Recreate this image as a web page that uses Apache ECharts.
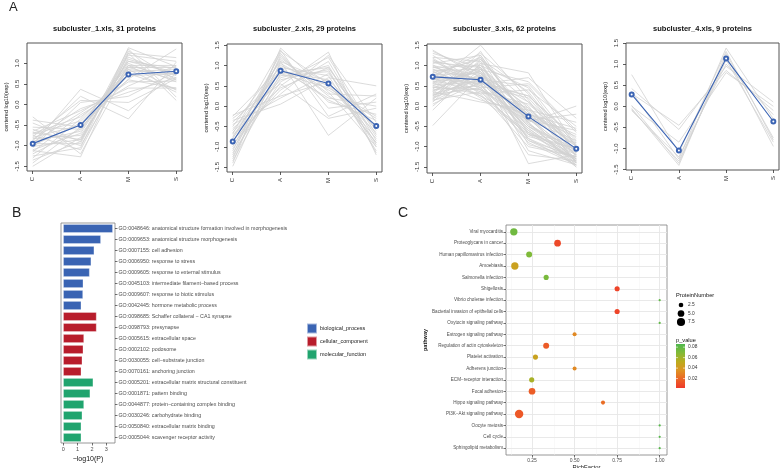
<!DOCTYPE html>
<html><head><meta charset="utf-8">
<script src="https://cdn.jsdelivr.net/npm/echarts@6/dist/echarts.min.js"></script>
<style>html,body{margin:0;padding:0;background:#fff}#c{width:780px;height:468px}</style>
</head><body><div id="c"></div>
<script>
// ---------- Panel A data ----------
const timeLabels = ['C', 'A', 'M', 'S'];
const clusterTitles = ['subcluster_1.xls, 31 proteins', 'subcluster_2.xls, 29 proteins', 'subcluster_3.xls, 62 proteins', 'subcluster_4.xls, 9 proteins'];
const meanLine1 = [-0.95, -0.50, 0.73, 0.81];
const meanLine2 = [-0.87, 0.87, 0.56, -0.49];
const meanLine3 = [0.72, 0.65, -0.26, -1.05];
const meanLine4 = [0.28, -1.05, 1.13, -0.36];
const yTickValues = [-1.5, -1.0, -0.5, 0, 0.5, 1.0, 1.5];

const grayLines1 = [
[-1.50,-0.80,0.95,0.95],[-1.42,-0.55,0.62,1.35],[-1.35,-0.90,1.20,1.05],[-1.30,-0.35,0.80,0.85],
[-1.25,-1.05,1.38,0.92],[-1.20,-0.60,0.90,0.90],[-1.15,-0.25,0.45,0.95],[-1.12,-1.27,1.25,1.14],
[-1.10,-0.70,1.05,0.75],[-1.05,0.05,0.20,0.80],[-1.02,-0.85,1.10,0.77],[-1.00,-0.45,0.70,0.75],
[-0.98,0.37,-0.15,0.76],[-0.95,-0.95,1.30,0.60],[-0.92,-0.20,0.55,0.57],[-0.90,-0.65,1.00,0.55],
[-0.88,0.20,-0.35,1.03],[-0.85,-0.10,0.30,0.65],[-0.83,-0.75,0.85,0.73],[-0.80,-0.50,0.95,0.35],
[-0.78,0.10,0.05,0.63],[-0.75,-1.10,1.15,0.70],[-0.72,-0.40,0.75,0.37],[-0.70,-0.30,0.60,0.40],
[-0.68,-0.85,1.35,0.18],[-0.65,-0.15,0.40,0.40],[-0.60,-1.00,0.95,0.65],[-0.55,-0.60,0.85,0.30],
[-0.45,-0.90,1.25,0.10],[-0.38,-0.55,1.05,0.88],[-0.30,-1.20,0.90,0.60]
];
const grayLines2 = [
[-1.48,1.10,0.60,-0.80],[-1.40,1.43,0.35,-1.00],[-1.35,0.80,0.95,-0.60],[-1.30,1.25,0.10,-0.20],
[-1.25,0.95,0.75,-1.10],[-1.20,1.35,0.55,-0.90],[-1.15,0.60,1.20,-0.70],[-1.10,1.20,0.25,-0.45],
[-1.05,0.70,1.00,-0.95],[-1.00,1.05,0.40,-0.30],[-0.95,0.50,1.33,-1.20],[-0.92,1.30,-0.05,0.10],
[-0.88,0.85,0.65,-0.55],[-0.85,0.40,1.10,-0.85],[-0.80,1.15,0.30,0.25],[-0.78,0.75,0.85,-1.00],
[-0.75,1.00,0.50,-0.65],[-0.70,0.30,1.25,-0.40],[-0.68,1.38,-0.25,0.30],[-0.65,0.65,0.90,-1.15],
[-0.60,0.90,0.20,0.00],[-0.55,0.45,0.95,-0.75],[-0.50,1.10,-0.72,0.20],[-0.45,0.20,0.80,-0.50],
[-0.40,0.80,0.45,-0.25],[-0.35,0.05,0.70,0.50],[-0.30,0.55,-0.30,-0.05],[-0.25,0.95,0.15,-0.35],
[-0.22,0.25,0.60,-0.90]
];
const grayLines3 = [
[1.38,0.70,-0.50,-1.30],[1.30,0.95,-0.20,-1.10],[1.25,0.55,-0.80,-1.45],[1.20,1.10,0.10,-0.90],
[1.15,0.40,-0.30,-1.20],[1.12,0.85,-0.65,-1.35],[1.10,0.60,0.25,-0.80],[1.05,1.25,-0.40,-1.50],
[1.02,0.30,-1.00,-1.25],[1.00,0.75,-0.10,-1.00],[0.98,0.50,-0.55,-1.40],[0.95,1.00,0.45,-1.15],
[0.92,0.20,-0.70,-1.05],[0.90,0.65,-0.25,-1.30],[0.88,0.90,0.60,-0.60],[0.85,0.45,-0.90,-1.45],
[0.82,1.15,-0.15,-1.20],[0.80,0.35,0.05,-0.95],[0.78,0.80,-0.45,-1.10],[0.75,0.55,-1.20,-1.35],
[0.72,1.30,0.30,-1.25],[0.70,0.25,-0.35,-0.85],[0.68,0.70,-0.60,-1.50],[0.65,1.05,0.82,-1.00],
[0.62,0.40,-0.05,-1.15],[0.60,0.85,-0.80,-1.30],[0.58,0.15,-0.20,-0.70],[0.55,1.50,0.15,-1.40],
[0.52,0.60,-0.50,-1.05],[0.50,0.95,-1.42,-1.20],[0.48,0.30,0.40,-0.50],[0.45,0.75,-0.30,-1.35],
[0.42,1.20,-0.70,-0.90],[0.40,0.50,0.20,-1.10],[0.38,0.90,-0.40,-1.45],[0.35,0.10,-0.10,-0.40],
[0.32,1.10,-0.95,-1.25],[0.30,0.65,0.50,-1.00],[0.28,0.45,-0.60,-1.30],[0.25,1.00,-0.25,-0.75],
[0.22,0.55,0.70,-0.30],[0.20,1.35,-0.45,-1.20],[0.18,0.80,0.00,-1.40],[0.15,0.35,-0.75,-1.05],
[0.12,0.70,-0.35,-0.20],[0.10,1.15,0.35,-1.15],[0.05,0.60,-0.55,-1.35],[0.00,0.90,-0.15,-0.95],
[-0.10,1.05,-0.85,-1.25],[-0.48,0.75,0.10,-1.10],[1.35,0.80,-0.40,0.00],[1.18,0.45,0.55,-0.65],
[1.08,0.95,-1.10,-1.45],[0.96,0.65,-0.20,-0.55],[0.86,0.25,-0.65,-1.20],[0.76,1.20,-0.30,-1.35],
[0.66,0.55,0.25,-0.85],[0.56,0.85,-0.50,-1.15],[0.46,0.40,-0.85,-1.40],[0.36,0.95,-0.05,-1.00],
[0.26,0.70,-0.70,-1.30],[0.16,1.25,-0.35,-0.60]
];
const grayLines4 = [
[0.75,-1.10,1.30,-0.80],[0.42,-0.55,0.95,0.10],[0.35,-1.25,1.38,-0.30],[0.30,-0.45,0.85,-0.10],
[0.02,-1.35,1.20,-0.95],[0.00,-0.85,0.80,0.00],[-0.05,-1.40,1.25,-0.75],[-0.08,-1.30,1.10,-0.85],
[-0.10,-1.20,1.00,-0.20]
];

// ---------- Panel B data ----------
const goTerms = [
'GO:0048646: anatomical structure formation involved in morphogenesis',
'GO:0009653: anatomical structure morphogenesis',
'GO:0007155: cell adhesion',
'GO:0006950: response to stress',
'GO:0009605: response to external stimulus',
'GO:0045103: intermediate filament\u2212based process',
'GO:0009607: response to biotic stimulus',
'GO:0042445: hormone metabolic process',
'GO:0098685: Schaffer collateral \u2212 CA1 synapse',
'GO:0098793: presynapse',
'GO:0005615: extracellular space',
'GO:0002102: podosome',
'GO:0030055: cell\u2212substrate junction',
'GO:0070161: anchoring junction',
'GO:0005201: extracellular matrix structural constituent',
'GO:0001871: pattern binding',
'GO:0044877: protein\u2212containing complex binding',
'GO:0030246: carbohydrate binding',
'GO:0050840: extracellular matrix binding',
'GO:0005044: scavenger receptor activity'
];
const goValues = [3.45, 2.62, 2.16, 1.95, 1.84, 1.40, 1.38, 1.26, 2.32, 2.32, 1.45, 1.40, 1.33, 1.26, 2.09, 1.88, 1.45, 1.33, 1.26, 1.26];
const goCategory = [0,0,0,0,0,0,0,0, 1,1,1,1,1,1, 2,2,2,2,2,2];
const goCategoryNames = ['biological_process', 'cellular_component', 'molecular_function'];
const goTicks = [0, 1, 2, 3];

// ---------- Panel C data ----------
const pathways = [
'Viral myocarditis', 'Proteoglycans in cancer', 'Human papillomavirus infection', 'Amoebiasis',
'Salmonella infection', 'Shigellosis', 'Vibrio cholerae infection', 'Bacterial invasion of epithelial cells',
'Oxytocin signaling pathway', 'Estrogen signaling pathway', 'Regulation of actin cytoskeleton', 'Platelet activation',
'Adherens junction', 'ECM\u2212receptor interaction', 'Focal adhesion', 'Hippo signaling pathway',
'PI3K\u2212Akt signaling pathway', 'Oocyte meiosis', 'Cell cycle', 'Sphingolipid metabolism'
];
const richFactor = [0.143, 0.40, 0.233, 0.149, 0.333, 0.75, 1.0, 0.75, 1.0, 0.5, 0.333, 0.27, 0.5, 0.248, 0.25, 0.667, 0.174, 1.0, 1.0, 1.0];
const proteinNumber = [6, 5, 4, 6, 3, 3, 1, 3, 1, 2, 4, 3, 2, 3, 5, 2, 8, 1, 1, 1];
const pValue = [0.075, 0.008, 0.070, 0.045, 0.072, 0.006, 0.080, 0.006, 0.080, 0.032, 0.015, 0.046, 0.032, 0.058, 0.016, 0.022, 0.014, 0.083, 0.083, 0.083];
const richTicks = [0.25, 0.50, 0.75, 1.00];
const richMinor = [0.125, 0.375, 0.625, 0.875];
const sizeLegendValues = [2.5, 5.0, 7.5];
const pLegendValues = [0.08, 0.06, 0.04, 0.02];

// ---------- build ----------
const FONT = 'Liberation Sans, Arial, Helvetica, sans-serif';
const chart = echarts.init(document.getElementById('c'), null, {renderer: 'canvas'});

const aPanels = [
  {left: 27, top: 43, width: 155, height: 128, ymin: -1.615, ymax: 1.495, lines: grayLines1, mean: meanLine1},
  {left: 227, top: 44, width: 155, height: 128, ymin: -1.62, ymax: 1.53, lines: grayLines2, mean: meanLine2},
  {left: 427, top: 44, width: 155, height: 129, ymin: -1.65, ymax: 1.53, lines: grayLines3, mean: meanLine3},
  {left: 626, top: 43, width: 153, height: 127, ymin: -1.51, ymax: 1.50, lines: grayLines4, mean: meanLine4}
];

const grids = [], xAxes = [], yAxes = [], series = [], graphics = [];
const blue = '#3B64B4';
const noLine = {show: false, onZero: false};

aPanels.forEach((p, i) => {
  grids.push({left: p.left, top: p.top, width: p.width, height: p.height, show: true,
    borderColor: '#555', borderWidth: 1, backgroundColor: 'transparent', outerBoundsMode: 'none', containLabel: false});
  const xs = [1, 2, 3, 4];
  xAxes.push({type: 'value', gridIndex: i, min: 0.88, max: 4.12,
    axisLine: noLine, splitLine: {show: false},
    axisTick: {show: true, customValues: xs, length: 3, lineStyle: {color: '#333', width: 0.8}},
    axisLabel: {customValues: xs, formatter: v => timeLabels[Math.round(v) - 1], rotate: 90, fontSize: 6, color: '#333', margin: 6, fontFamily: FONT}});
  const ticks = yTickValues.filter(v => v >= p.ymin && v <= p.ymax);
  yAxes.push({type: 'value', gridIndex: i, min: p.ymin, max: p.ymax,
    axisLine: noLine, splitLine: {show: false},
    axisTick: {show: true, customValues: ticks, length: 3, lineStyle: {color: '#333', width: 0.8}},
    axisLabel: {customValues: ticks, formatter: v => v.toFixed(1), rotate: 90, fontSize: 6, color: '#333', margin: 7, fontFamily: FONT},
    name: 'centered log10(exp)', nameLocation: 'middle', nameRotate: 90, nameGap: 18,
    nameTextStyle: {fontSize: 5.5, color: '#222', fontFamily: FONT}});
  p.lines.forEach(l => {
    series.push({type: 'line', xAxisIndex: i, yAxisIndex: i, data: l.map((v, j) => [j + 1, v]),
      symbol: 'none', silent: true, z: 1, lineStyle: {color: '#D2D2D2', width: 0.8}});
  });
  series.push({type: 'line', xAxisIndex: i, yAxisIndex: i, data: p.mean.map((v, j) => [j + 1, v]),
    symbol: 'emptyCircle', symbolSize: 4, z: 5, lineStyle: {color: blue, width: 1.1},
    itemStyle: {color: blue, borderColor: blue, borderWidth: 1}});
  graphics.push({type: 'text', x: p.left + p.width / 2, y: 29, style: {text: clusterTitles[i], font: 'bold 7.5px ' + FONT, fill: '#111', align: 'center', verticalAlign: 'middle'}});
});

// Panel B
const bIdx = 4;
grids.push({left: 61, top: 223, width: 54, height: 220, show: true, borderColor: '#7F7F7F', borderWidth: 0.8, outerBoundsMode: 'none', containLabel: false});
xAxes.push({type: 'value', gridIndex: bIdx, min: -0.15, max: 3.6, axisLine: noLine, splitLine: {show: false},
  axisTick: {show: true, customValues: goTicks, length: 2.5, lineStyle: {color: '#333', width: 0.7}},
  axisLabel: {customValues: goTicks, fontSize: 5.5, color: '#4D4D4D', margin: 3, fontFamily: FONT},
  name: '\u2212log10(P)', nameLocation: 'middle', nameGap: 13, nameTextStyle: {fontSize: 7, color: '#111', fontFamily: FONT}});
yAxes.push({type: 'category', gridIndex: bIdx, data: goTerms, inverse: true, position: 'right',
  axisLine: noLine, splitLine: {show: false},
  axisTick: {show: true, alignWithLabel: true, interval: 0, length: 2.5, lineStyle: {color: '#333', width: 0.7}},
  axisLabel: {interval: 0, fontSize: 5.3, color: '#4D4D4D', margin: 3.5, fontFamily: FONT}});
const goColors = ['#3A64B3', '#B81D2C', '#20A46E'];
goCategoryNames.forEach((name, k) => {
  series.push({type: 'bar', name: name, xAxisIndex: bIdx, yAxisIndex: bIdx, stack: 'go', barWidth: '80%',
    data: goValues.map((v, j) => goCategory[j] === k ? v : '-'),
    itemStyle: {color: goColors[k], borderColor: 'rgba(255,255,255,0.55)', borderWidth: 0.6}});
});

// Panel C
const cIdx = 5;
grids.push({left: 506, top: 225, width: 161, height: 230, show: true, borderColor: '#7F7F7F', borderWidth: 0.8, outerBoundsMode: 'none', containLabel: false});
xAxes.push({type: 'value', gridIndex: cIdx, min: 0.097, max: 1.043, axisLine: noLine, splitLine: {show: false},
  axisTick: {show: true, customValues: richTicks, length: 2.5, lineStyle: {color: '#333', width: 0.7}},
  axisLabel: {customValues: richTicks, formatter: v => v.toFixed(2), fontSize: 5, color: '#4D4D4D', margin: 3, fontFamily: FONT},
  name: 'RichFactor', nameLocation: 'middle', nameGap: 6.5, nameTextStyle: {fontSize: 5.8, color: '#111', fontFamily: FONT}});
const idx = pathways.map((_, j) => j);
yAxes.push({type: 'value', gridIndex: cIdx, min: -0.6, max: 19.6, inverse: true, axisLine: noLine, splitLine: {show: false},
  axisTick: {show: true, customValues: idx, length: 2.5, lineStyle: {color: '#333', width: 0.7}},
  axisLabel: {customValues: idx, formatter: v => pathways[Math.round(v)], fontSize: 4.6, color: '#4D4D4D', margin: 3, fontFamily: FONT},
  name: 'pathway', nameLocation: 'middle', nameRotate: 90, nameGap: 76,
  nameTextStyle: {fontSize: 5.5, fontWeight: 'bold', color: '#111', fontFamily: FONT}});

const nMin = Math.min(...proteinNumber), nMax = Math.max(...proteinNumber);
const dotSize = n => Math.max(2.2, 1.4 * (1 + 5 * Math.sqrt(Math.max(0, (n - nMin) / (nMax - nMin)))));

// gridlines for C
series.push({type: 'scatter', xAxisIndex: cIdx, yAxisIndex: cIdx, data: [[0.5, 0]], symbolSize: 0, silent: true, z: 0,
  markLine: {silent: true, z: 0, symbol: ['none', 'none'], label: {show: false}, animation: false,
    data: [
      ...richMinor.map(v => ({xAxis: v, lineStyle: {color: '#F3F3F3', width: 0.5, type: 'solid'}})),
      ...richTicks.map(v => ({xAxis: v, lineStyle: {color: '#E6E6E6', width: 0.9, type: 'solid'}})),
      ...idx.map(j => ({yAxis: j, lineStyle: {color: '#E6E6E6', width: 0.9, type: 'solid'}}))
    ]}});
const scatterIdx = series.length;
series.push({type: 'scatter', xAxisIndex: cIdx, yAxisIndex: cIdx, z: 20,
  data: pathways.map((p, j) => [richFactor[j], j, pValue[j], proteinNumber[j]]),
  symbolSize: d => dotSize(d[3]), itemStyle: {opacity: 1}});

const pMin = 0.002, pMax = 0.086;
const pColors = ['#EE3A2A', '#EC6426', '#DE9322', '#BBAC1E', '#82BA38', '#4DB84E'];
const cbLeft = 676, cbTop = 344, cbH = 44, cbW = 9;

// legends for C (graphic)
graphics.push({type: 'text', x: 676, y: 295, style: {text: 'ProteinNumber', font: '5.7px ' + FONT, fill: '#111', verticalAlign: 'middle'}});
[305, 313.5, 322].forEach((y, k) => {
  graphics.push({type: 'circle', shape: {cx: 681, cy: y, r: dotSize(sizeLegendValues[k]) / 2}, style: {fill: '#000'}});
  graphics.push({type: 'text', x: 688, y: y, style: {text: sizeLegendValues[k].toFixed(1), font: '4.8px ' + FONT, fill: '#333', verticalAlign: 'middle'}});
});
graphics.push({type: 'text', x: 676, y: 340, style: {text: 'p_value', font: '5.7px ' + FONT, fill: '#111', verticalAlign: 'middle'}});
graphics.push({type: 'rect', shape: {x: cbLeft, y: cbTop, width: cbW, height: cbH},
  style: {fill: {type: 'linear', x: 0, y: 1, x2: 0, y2: 0, colorStops: pColors.map((c, i) => ({offset: i / (pColors.length - 1), color: c}))}}, z: 5});
pLegendValues.forEach(v => {
  const y = cbTop + (pMax - v) / (pMax - pMin) * cbH;
  graphics.push({type: 'text', x: 688, y: y, style: {text: v.toFixed(2), font: '4.8px ' + FONT, fill: '#333', verticalAlign: 'middle'}, z: 10});
  graphics.push({type: 'line', shape: {x1: cbLeft, y1: y, x2: cbLeft + 2, y2: y}, style: {stroke: '#fff', lineWidth: 0.6}, z: 10});
  graphics.push({type: 'line', shape: {x1: cbLeft + cbW - 2, y1: y, x2: cbLeft + cbW, y2: y}, style: {stroke: '#fff', lineWidth: 0.6}, z: 10});
});

// panel letters
graphics.push({type: 'text', x: 9, y: 1, style: {text: 'A', font: '13px ' + FONT, fill: '#222'}});
graphics.push({type: 'text', x: 12, y: 206, style: {text: 'B', font: '14px ' + FONT, fill: '#222'}});
graphics.push({type: 'text', x: 398, y: 206, style: {text: 'C', font: '14px ' + FONT, fill: '#222'}});

chart.setOption({
  animation: false,
  backgroundColor: '#fff',
  textStyle: {fontFamily: FONT},
  grid: grids, xAxis: xAxes, yAxis: yAxes, series: series,
  legend: {data: goCategoryNames, orient: 'vertical', left: 306, top: 322.5, itemWidth: 10, itemHeight: 10, itemGap: 1,
    icon: 'rect', selectedMode: false, padding: 0, textStyle: {fontSize: 5.5, color: '#222', fontFamily: FONT, padding: [0, 0, 0, -2]}},
  visualMap: {type: 'continuous', show: false, seriesIndex: scatterIdx, dimension: 2, min: pMin, max: pMax,
    inRange: {color: pColors}},
  graphic: graphics
});
</script>
</body></html>
